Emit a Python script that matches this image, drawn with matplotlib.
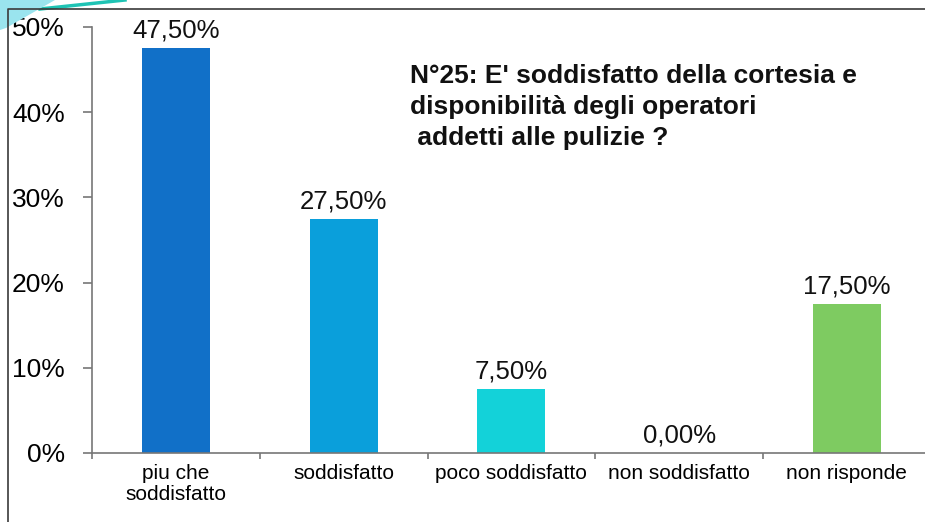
import matplotlib
matplotlib.use("Agg")
import matplotlib.pyplot as plt
from matplotlib.patches import Polygon
from matplotlib.lines import Line2D

plt.rcParams['font.family'] = ['Liberation Sans', 'DejaVu Sans']

categories = ["piu che\nsoddisfatto", "soddisfatto", "poco soddisfatto", "non soddisfatto", "non risponde"]
values = [0.475, 0.275, 0.075, 0.0, 0.175]
value_labels = ["47,50%", "27,50%", "7,50%", "0,00%", "17,50%"]
bar_colors = ["#1170C8", "#0A9FDB", "#13D2D9", "#FFFFFF", "#7ECB61"]
yticks = [0, 0.1, 0.2, 0.3, 0.4, 0.5]
ytick_labels = ["0%", "10%", "20%", "30%", "40%", "50%"]
title = "N°25: E' soddisfatto della cortesia e\ndisponibilità degli operatori\n addetti alle pulizie ?"

W, H = 925, 522
fig = plt.figure(figsize=(W / 100, H / 100), dpi=100)

# decorative slide elements (top-left)
fig.patches.append(Polygon([(0, 1), (55 / W, 1), (6 / W, 1 - 28 / H), (0, 1 - 30 / H)],
                           closed=True, transform=fig.transFigure, facecolor="#9AE4EE",
                           edgecolor="none", zorder=0))
fig.lines.append(Line2D([40 / W, 125 / W], [1 - 9 / H, 1.0], transform=fig.transFigure,
                        color="#1FC3B4", linewidth=2.5, zorder=0))
# chart frame
fig.lines.append(Line2D([8 / W, 8 / W, 1.0], [0.0, 1 - 9 / H, 1 - 9 / H], transform=fig.transFigure,
                        color="#3a3a3a", linewidth=1.2, zorder=1))

ax = fig.add_axes([92 / W, 1 - 453 / H, 838.75 / W, 426 / H])
ax.patch.set_alpha(0)
x = list(range(len(categories)))
ax.bar(x, values, width=0.405, color=bar_colors, zorder=2)
ax.set_xlim(-0.5, len(categories) - 0.5)
ax.set_ylim(0, 0.5)

for xi, v, lab in zip(x, values, value_labels):
    ax.annotate(lab, (xi, v), xytext=(0, 4), textcoords="offset points",
                ha="center", va="bottom", fontsize=18.5, color="#111111")

for s in ["top", "right"]:
    ax.spines[s].set_visible(False)
for s in ["left", "bottom"]:
    ax.spines[s].set_color("#777777")
    ax.spines[s].set_linewidth(1.2)

ax.set_yticks(yticks)
ax.set_yticklabels(ytick_labels, fontsize=19)
ax.tick_params(axis="y", length=6.5, width=1.2, color="#777777", pad=13)

ax.set_xticks(x)
ax.set_xticklabels(categories, fontsize=15, linespacing=1.1)
ax.tick_params(axis="x", which="major", length=0, pad=8)
ax.set_xticks([i - 0.5 for i in range(len(categories) + 1)], minor=True)
ax.tick_params(axis="x", which="minor", length=4, width=1.2, color="#777777")

fig.text(410 / W, 1 - 64 / H, title, ha="left", va="top", fontsize=19, fontweight="bold",
         linespacing=1.38, color="#111111")

fig.savefig("out.png", dpi=100)
